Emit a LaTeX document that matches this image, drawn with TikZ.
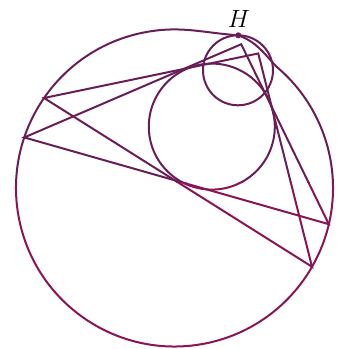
\documentclass[tikz,border=0pt]{standalone}
\usetikzlibrary{calc}
\definecolor{topviolet}{RGB}{105,30,88}
\definecolor{lowcrimson}{RGB}{138,20,84}

\begin{document}
\begin{tikzpicture}[x=1pt, y=1pt, line width=2pt]
\useasboundingbox (0,0) rectangle (346,349);
\coordinate (O) at (174.5,161);
\coordinate (I) at (211.8,222.4);
\coordinate (K) at (238,278.7);
\coordinate (H) at (238.3,313.7);
\coordinate (u) at ($(O)+(50:158.5)$);
\coordinate (w) at ($(O)+(100:158.5)$);
\foreach \v/\a in {a1/161.4, b1/65.1, c1/-13.2, a2/145.4, b2/58.1, c2/-29.8}
  \coordinate (\v) at ($(O)+(\a:158.5)$);
\foreach \c/\lo/\hi in {topviolet/166/349, lowcrimson/0/166}{
\begin{scope}
\clip (0,\lo) rectangle (346,\hi);
% outer circle, pulled up through H
\draw[\c] (u) to[out=133, in=-20] (H) to[out=176, in=10] (w)
  arc[start angle=100, end angle=410, radius=158.5] -- cycle;
\draw[\c] (I) circle (63);
\draw[\c] (K) circle (35);
\draw[\c] (a1) -- (b1) -- (c1) -- cycle;
\draw[\c] (a2) -- (b2) -- (c2) -- cycle;
\end{scope}
}
\fill[topviolet] (H) circle (3);
\node[font=\Huge] (Hlabel) at (239,330) {$H$};
\end{tikzpicture}
\end{document}
